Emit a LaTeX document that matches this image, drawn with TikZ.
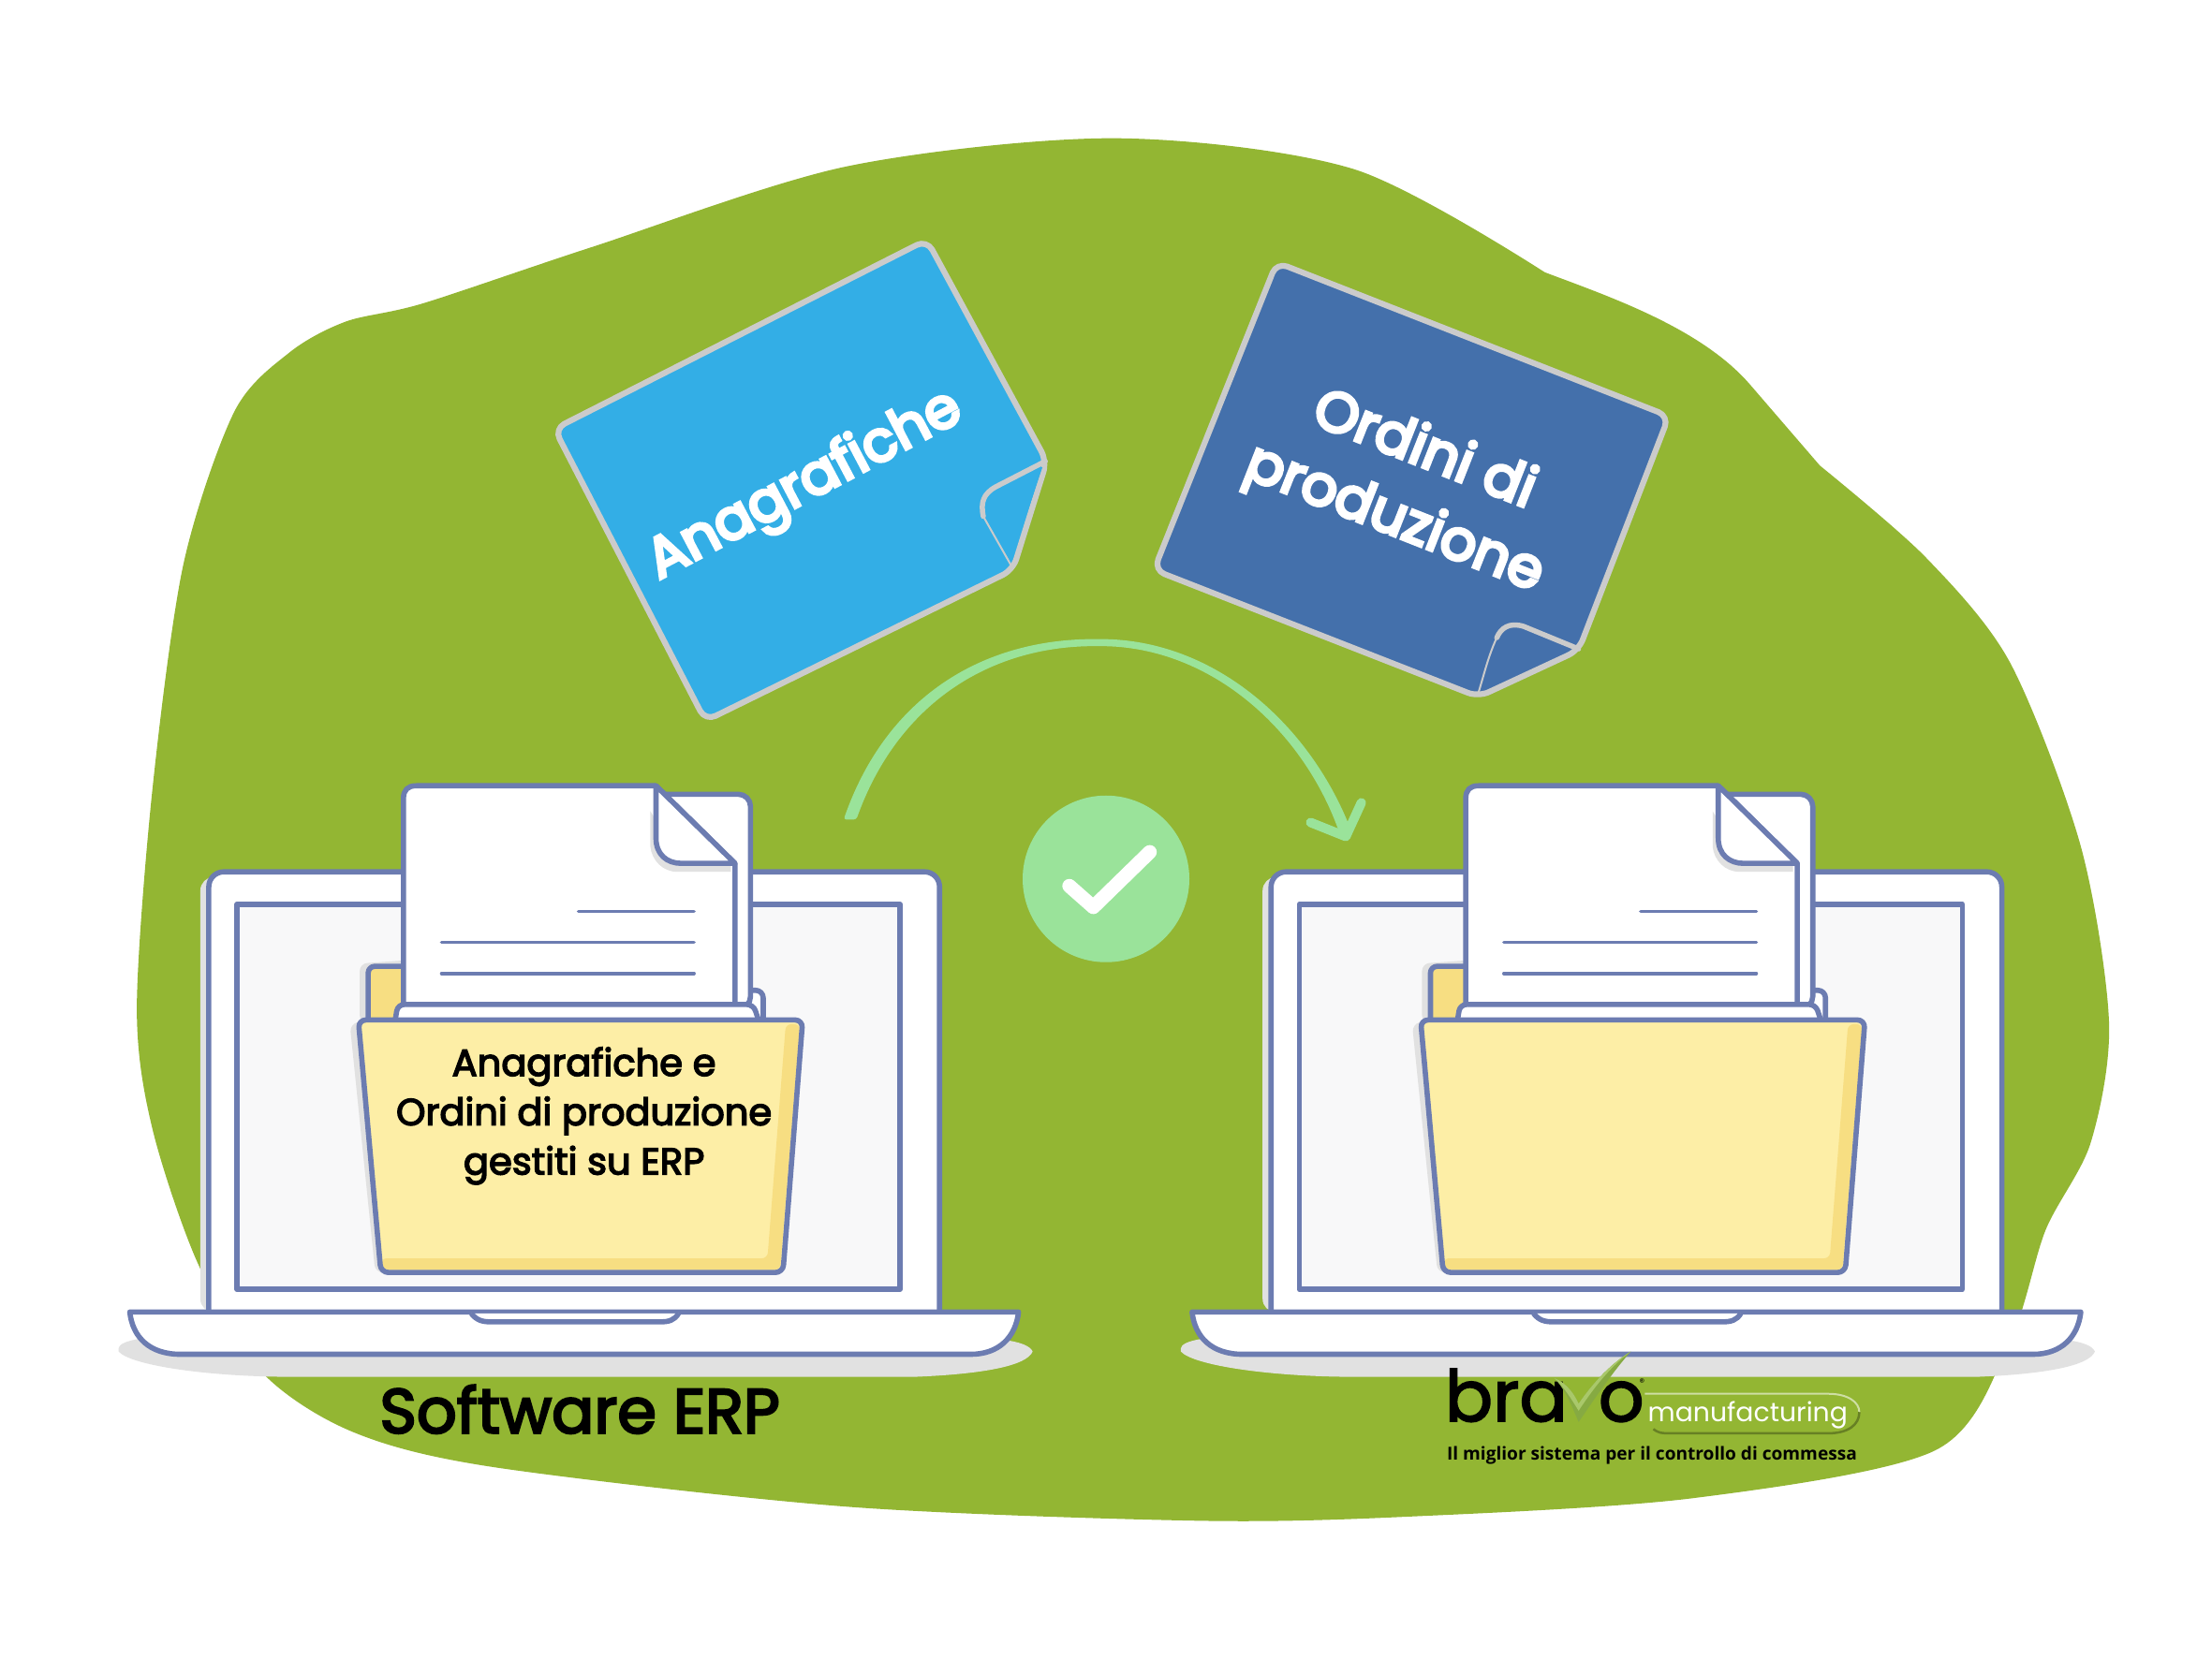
\documentclass[tikz,border=0pt]{standalone}
\usepackage{fontspec}
\setmainfont{Poppins}
\newfontfamily\tagfont{Open Sans}
\newfontfamily\heavyfont[FakeBold=3.6]{Poppins}
\newfontfamily\notefont[FakeBold=6]{Poppins}
\newfontfamily\logofont[FakeBold=2.2]{Poppins}
\usetikzlibrary{calc}
\definecolor{leafgreen}{HTML}{93B633}
\definecolor{outline}{HTML}{6C7CB1}
\definecolor{softgray}{HTML}{E1E1E1}
\definecolor{screenfill}{HTML}{F8F8F9}
\definecolor{folderlight}{HTML}{FDEEA6}
\definecolor{folderdark}{HTML}{F7DE82}
\definecolor{skyblue}{HTML}{33AEE6}
\definecolor{deepblue}{HTML}{4470AB}
\definecolor{noteedge}{HTML}{CBCBCB}
\definecolor{mint}{HTML}{9AE39A}
\definecolor{tickgreen}{HTML}{86AA42}
\definecolor{ticklight}{HTML}{A9C86A}
\tikzset{
  x=1.50638pt, y=-1.50679pt,
  ink/.style={draw=outline, line width=5.6pt, line join=round},
  rule/.style={draw=outline, line width=3.6pt, line cap=round},
  noteshape/.style={draw=noteedge, line width=6.2pt, line join=round, rounded corners=12pt},
  foldline/.style={draw=noteedge, line width=2pt},
  foldedge/.style={draw=noteedge, line width=5.5pt, line cap=round},
  notelabel/.style={text=white, font=\notefont\fontsize{60}{60}\selectfont, inner sep=0pt},
  pics/laptop/.style={code={
    % table shadow and lid shadow
    \fill[softgray] (-5,945) .. controls (-60,948) and (-65,952) .. (-64,958)
      .. controls (-55,968) and (0,976) .. (60,976) -- (500,976)
      .. controls (550,974) and (580,968) .. (584,958)
      .. controls (580,950) and (560,948) .. (500,945) -- cycle;
    \fill[softgray, rounded corners=14pt] (-6,622) -- (100,617) -- (100,930) -- (-6,930) -- cycle;
    % lid and screen
    \path[ink, fill=white, rounded corners=16pt] (0,930) -- (0,618) -- (518,618) -- (518,930);
    \path[ink, fill=screenfill] (20,641) rectangle (490,914);
    % base
    \path[ink, fill=white] (-56,930) -- (574,930)
      .. controls (572,948) and (560,960) .. (540,960) -- (-20,960)
      .. controls (-42,960) and (-54,948) .. (-56,930) -- cycle;
    \path[ink, fill=white] (186,931) .. controls (190,936) and (194,937) .. (200,937)
      -- (320,937) .. controls (326,937) and (330,936) .. (333,931);
    % folder back panel
    \fill[softgray, rounded corners=8pt] (107,725) -- (107,683) -- (150,680) -- (150,725) -- cycle;
    \path[ink, fill=folderdark, rounded corners=7pt] (113,725) -- (113,685) -- (150,685) -- (150,725);
    \path[ink, fill=white, rounded corners=8pt] (370,722) -- (370,702) -- (393,702) -- (393,722);
    % rear sheet
    \path[ink, fill=white, rounded corners=13pt] (300,563) -- (384,563) -- (384,715) -- (300,715);
    % front sheet with dog-ear
    \path[ink, fill=white] (138,715) -- (138,566) .. controls (138,560) and (141,557) .. (147,557)
      -- (317,557) -- (373,612) -- (373,715) -- cycle;
    \fill[softgray] (313,575) -- (313,600) .. controls (314,610) and (322,618) .. (332,618) -- (370,618) -- (370,612) -- (332,606) -- cycle;
    \path[ink, fill=white, line join=round] (317,557) -- (317,594)
      .. controls (317,606) and (325,612) .. (335,612) -- (373,612) -- cycle;
    \draw[rule] (262,646) -- (344,646);
    \draw[rule] (165,668) -- (344,668);
    \draw[rule] (165,690) -- (344,690);
    % white lip of the folder
    \path[ink, fill=white, rounded corners=7pt] (132,724) -- (134,712) -- (386,712) -- (390,724);
    % folder front
    \fill[softgray, rounded corners=8pt] (100,726) -- (112,723) -- (128,902) -- (118,902) -- cycle;
    \path[fill=folderlight, rounded corners=8pt] (106,723) -- (421,723) -- (407,902) -- (122,902) -- cycle;
    \fill[folderdark, rounded corners=6pt] (409,726) -- (419,726) -- (405,900) -- (124,900) -- (122,892)
      -- (396,892) -- cycle;
    \path[ink, rounded corners=8pt] (106,723) -- (421,723) -- (407,902) -- (122,902) -- cycle;
  }}
}
\begin{document}
\begin{tikzpicture}
\useasboundingbox (0,0) rectangle (1568,1176);
\fill[white] (0,0) rectangle (1568,1176);

% green backdrop: smooth run all round, then the straighter upper-right flank
\fill[leafgreen] plot[smooth, tension=0.5] coordinates {
  (1290,330) (1365,395) (1425,470) (1475,600) (1495,725) (1482,810) (1450,872)
  (1425,950) (1372,1028) (1200,1062) (1000,1075) (850,1078) (600,1068) (350,1040)
  (250,1015) (185,972) (140,895) (108,800) (97,715) (108,560) (130,400) (166,292) (205,250) (245,228)
  (300,215) (420,175) (600,118) (790,98) (960,120) (1095,193)
} .. controls (1140,210) and (1205,232) .. (1240,272) -- (1290,330) -- cycle;

% two laptops, each holding a folder
\pic at (148,0) {laptop};
\pic at (901,0) {laptop};

% sticky note: master data
\path[noteshape, fill=skyblue] (657,170) -- (742,327) -- (718,404) -- (500,511) -- (393,304) -- cycle;
\fill[skyblue] (739,331) -- (716,400) -- (699,368) -- (697,352) -- cycle;
\draw[foldedge] (741,327) -- (706,345) .. controls (697,350) and (695,356) .. (697,366);
\draw[foldline] (697,366) -- (718,403);
\node[notelabel, rotate=27.8] (anagrafiche) at (571,345) {Anagrafiche};

% sticky note: production orders
\path[noteshape, fill=deepblue] (905,186) -- (1183,295) -- (1119,461) -- (1048,494) -- (818,404) -- cycle;
\draw[foldedge] (1119,460) -- (1080,444) .. controls (1070,441) and (1064,445) .. (1061,452);
\draw[foldline] (1061,452) .. controls (1055,465) and (1052,478) .. (1048,491);
\node[notelabel, rotate=-21.5] (ordini) at (1011,316) {Ordini di};
\node[notelabel, rotate=-21.5] (produzione) at (988,369) {produzione};

% curved transfer arrow, thin at the crown
\fill[mint, rounded corners=3pt] (598,581) .. controls (628,495) and (695,453) .. (778,453)
  .. controls (862,453) and (930,515) .. (959,592)
  -- (950,592) .. controls (925,520) and (860,458) .. (778,458)
  .. controls (700,458) and (636,500) .. (607,581) -- cycle;
\draw[mint, line width=10pt, line cap=round, line join=round] (929,583) -- (954,593) -- (965,569);

% confirmation badge
\node[circle, fill=mint, minimum size=178pt, inner sep=0pt] (badge) at (784,623) {};
\draw[white, line width=15pt, line cap=round, line join=round] (758,628) -- (775,643) -- (815,604);

% folder caption and system names
\node[align=center, font=\heavyfont\fontsize{40}{52.7}\selectfont, inner sep=0pt] (content) at (414,791)
  {Anagrafiche e\\Ordini di produzione\\gestiti su ERP};
\node[font=\heavyfont\fontsize{67}{67}\selectfont, inner sep=0pt] (erp) at (411,999) {Software ERP};

% product mark
\node[anchor=base west, font=\logofont\fontsize{76}{76}\selectfont, inner sep=0pt] (bra) at (1024,1007.5) {bra};
\node[anchor=base west, font=\logofont\fontsize{76}{76}\selectfont, inner sep=0pt] (bravoo) at (1133,1007.5) {o};
\fill[tickgreen] (1102,977) .. controls (1110,980) and (1116,988) .. (1119,995)
  .. controls (1128,982) and (1140,968) .. (1156,958)
  .. controls (1142,974) and (1130,992) .. (1119,1008)
  .. controls (1114,996) and (1110,986) .. (1102,977) -- cycle;
\fill[ticklight] (1102,977) .. controls (1110,980) and (1116,988) .. (1119,995)
  .. controls (1128,982) and (1140,968) .. (1156,958)
  .. controls (1140,970) and (1129,985) .. (1119,1000)
  .. controls (1114,992) and (1110,985) .. (1102,977) -- cycle;
\node[font=\fontsize{11}{11}\selectfont, inner sep=0pt] (regmark) at (1164,980) {\textregistered};
\draw[white!55!leafgreen, line width=2pt] (1166,988) -- (1296,988)
  .. controls (1310,988) and (1318,994) .. (1318,1001);
\draw[leafgreen!70!black, line width=2.5pt] (1172,1013) .. controls (1176,1016) and (1178,1016) .. (1184,1016)
  -- (1296,1016) .. controls (1310,1016) and (1318,1010) .. (1318,1001);
\node[anchor=base west, text=white, font=\fontsize{28.3}{28.3}\selectfont, inner sep=0pt] (manufacturing) at (1168,1007.5) {manufacturing};
\node[anchor=base, font=\tagfont\fontsize{19.1}{20}\selectfont\bfseries, inner sep=0pt] (tagline) at (1171,1035) {Il miglior sistema per il controllo di commessa};
\end{tikzpicture}
\end{document}
